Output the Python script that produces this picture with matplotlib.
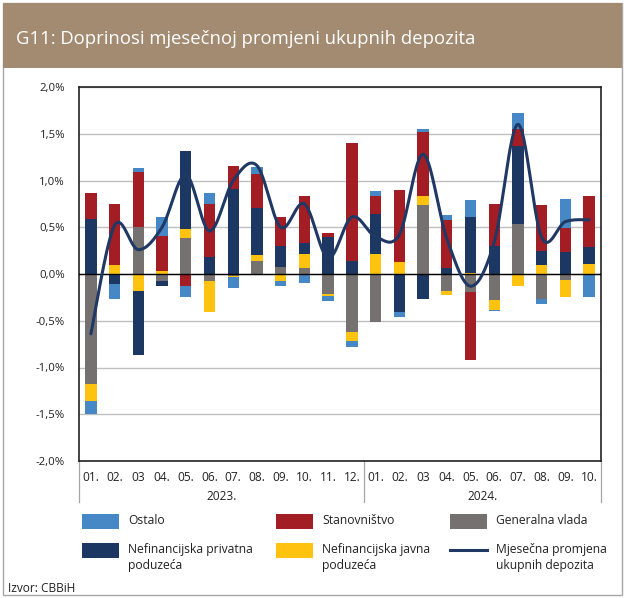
import numpy as np
import matplotlib
matplotlib.use("Agg")
import matplotlib.pyplot as plt
from matplotlib.patches import Rectangle
from matplotlib.lines import Line2D
import matplotlib.transforms as mtransforms

plt.rcParams['font.family'] = ['Open Sans', 'DejaVu Sans']

months = ["01.", "02.", "03", "04.", "05.", "06.", "07.", "08.", "09.", "10.", "11.", "12.",
          "01.", "02.", "03", "04.", "05.", "06.", "07.", "08.", "09.", "10."]
years = ["2023.", "2024."]
year_lengths = [12, 10]

generalna_vlada = [-1.18, 0.0, 0.507, -0.08, 0.38, -0.075, -0.02, 0.14, 0.07, 0.068, -0.218, -0.625,
                   -0.51, 0.0, 0.74, -0.18, -0.196, -0.28, 0.536, -0.27, -0.064, 0.0]
nef_javna = [-0.18, 0.096, -0.18, 0.03, 0.10, -0.33, -0.01, 0.06, -0.075, 0.146, -0.014, -0.093,
             0.214, 0.125, 0.096, -0.046, 0.014, -0.10, -0.125, 0.096, -0.18, 0.107]
nef_privatna = [0.586, -0.107, -0.69, -0.05, 0.84, 0.18, 0.91, 0.51, 0.23, 0.114, 0.40, 0.14,
                0.425, -0.41, -0.27, 0.068, 0.60, 0.30, 0.836, 0.154, 0.232, 0.186]
stanovnistvo = [0.28, 0.65, 0.58, 0.38, -0.125, 0.57, 0.25, 0.36, 0.31, 0.507, 0.043, 1.26,
                0.19, 0.775, 0.68, 0.51, -0.725, 0.45, 0.18, 0.49, 0.257, 0.536]
ostalo = [-0.14, -0.164, 0.043, 0.20, -0.118, 0.114, -0.12, 0.075, -0.05, -0.10, -0.057, -0.068,
          0.054, -0.054, 0.03, 0.054, 0.18, -0.018, 0.17, -0.046, 0.318, -0.25]
mjesecna_promjena = [-0.64, 0.52, 0.26, 0.50, 1.06, 0.46, 1.00, 1.16, 0.50, 0.75, 0.17, 0.61,
                     0.40, 0.42, 1.28, 0.38, -0.13, 0.34, 1.60, 0.39, 0.56, 0.58]

series = [
    ("Generalna vlada", generalna_vlada, "#767171"),
    ("Nefinancijska javna\npoduzeća", nef_javna, "#FFC20E"),
    ("Nefinancijska privatna\npoduzeća", nef_privatna, "#1C3762"),
    ("Stanovništvo", stanovnistvo, "#A31D24"),
    ("Ostalo", ostalo, "#4687C6"),
]
line_label = "Mjesečna promjena\nukupnih depozita"
line_color = "#1F3864"

W, H = 624, 598
fig = plt.figure(figsize=(W / 100, H / 100), dpi=100)

def fx(x):
    return x / W

def fy(y):
    return 1 - y / H

# outer border and title bar
fig.add_artist(Rectangle((fx(3), fy(595)), fx(619), 592 / H, transform=fig.transFigure,
                         facecolor="none", edgecolor="#A6A6A6", lw=1.0))
fig.add_artist(Rectangle((fx(3), fy(68)), fx(619), 65 / H, transform=fig.transFigure,
                         facecolor="#A38B72", edgecolor="none"))
fig.text(fx(16), fy(39), "G11: Doprinosi mjesečnoj promjeni ukupnih depozita",
         color="white", fontsize=13.3, va="center", ha="left")

ax = fig.add_axes([fx(79), fy(461), fx(601) - fx(79), (461 - 87) / H])
x = np.arange(len(months))
bw = 0.48
pos_bottom = np.zeros(len(months))
neg_bottom = np.zeros(len(months))
for name, vals, col in series:
    v = np.array(vals)
    bottoms = np.where(v >= 0, pos_bottom, neg_bottom)
    ax.bar(x, v, bw, bottom=bottoms, color=col, edgecolor="none", zorder=3)
    pos_bottom = pos_bottom + np.where(v >= 0, v, 0)
    neg_bottom = neg_bottom + np.where(v < 0, v, 0)

# smoothed line (Catmull-Rom / Excel-like bezier through the points)
pts = np.array(mjesecna_promjena)
xs, ys = [], []
n = len(pts)
for i in range(n - 1):
    p0 = pts[max(i - 1, 0)]; p1 = pts[i]; p2 = pts[i + 1]; p3 = pts[min(i + 2, n - 1)]
    x0 = x[max(i - 1, 0)]; x1 = x[i]; x2 = x[i + 1]; x3 = x[min(i + 2, n - 1)]
    c1x = x1 + (x2 - x0) / 6; c1y = p1 + (p2 - p0) / 6
    c2x = x2 - (x3 - x1) / 6; c2y = p2 - (p3 - p1) / 6
    t = np.linspace(0, 1, 30)
    bx = (1 - t) ** 3 * x1 + 3 * (1 - t) ** 2 * t * c1x + 3 * (1 - t) * t ** 2 * c2x + t ** 3 * x2
    by = (1 - t) ** 3 * p1 + 3 * (1 - t) ** 2 * t * c1y + 3 * (1 - t) * t ** 2 * c2y + t ** 3 * p2
    xs.extend(bx); ys.extend(by)
ax.plot(xs, ys, color=line_color, lw=2.2, zorder=5, solid_capstyle="round")

ax.set_xlim(-0.5, len(months) - 0.5)
ax.set_ylim(-2.0, 2.0)
yt = np.arange(-2.0, 2.01, 0.5)
ax.set_yticks(yt)
ax.set_yticklabels([("%.1f%%" % v).replace(".", ",") for v in yt])
ax.yaxis.grid(True, color="#BFBFBF", lw=1.0, zorder=0)
ax.axhline(0, color="black", lw=1.0, zorder=4)
ax.tick_params(axis="y", length=0, pad=10, labelsize=8.2, labelcolor="#222222")
ax.set_xticks(x)
ax.set_xticklabels(months)
ax.tick_params(axis="x", length=0, pad=7, labelsize=8.6, labelcolor="#222222")
for s in ax.spines.values():
    s.set_color("#222222")
    s.set_linewidth(1.2)

trans = mtransforms.blended_transform_factory(ax.transData, ax.transAxes)
sep_len = (502 - 461) / (461 - 87)
edges = [-0.5]
start = 0
for yl, ln in zip(years, year_lengths):
    edges.append(start + ln - 0.5)
    ax.text(start + (ln - 1) / 2, -(497 - 461) / (461 - 87), yl, transform=trans,
            ha="center", va="center", fontsize=8.6, color="#222222")
    start += ln
for e in edges:
    ax.add_line(Line2D([e, e], [0, -sep_len], transform=trans, color="#A6A6A6", lw=0.9, clip_on=False))

# legend (manual, row-major as in the original)
legend_items = [("Ostalo", "#4687C6", "patch"), ("Stanovništvo", "#A31D24", "patch"),
                ("Generalna vlada", "#767171", "patch"),
                ("Nefinancijska privatna\npoduzeća", "#1C3762", "patch"),
                ("Nefinancijska javna\npoduzeća", "#FFC20E", "patch"),
                (line_label, line_color, "line")]
col_x = [82, 276, 450]
row_y = [521, 550]
for i, (lab, col, kind) in enumerate(legend_items):
    cx = col_x[i % 3]; cy = row_y[i // 3]
    if kind == "patch":
        fig.add_artist(Rectangle((fx(cx), fy(cy + 7.5)), 37 / W, 15 / H, transform=fig.transFigure,
                                 facecolor=col, edgecolor="none"))
    else:
        fig.add_artist(Line2D([fx(cx), fx(cx + 37)], [fy(cy), fy(cy)], transform=fig.transFigure,
                              color=col, lw=2.2))
    fig.text(fx(cx + 46), fy(cy - 7), lab, fontsize=8.7, va="top", ha="left",
             color="#222222", linespacing=1.35)

fig.text(fx(8), fy(588), "Izvor: CBBiH", fontsize=8.6, va="center", ha="left", color="#222222")

fig.savefig("out.png", dpi=100)
